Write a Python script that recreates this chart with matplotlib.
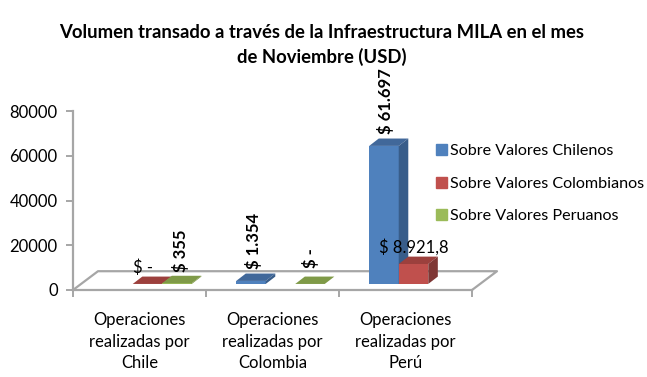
import matplotlib.pyplot as plt
from matplotlib.patches import Polygon, Patch

plt.rcParams['font.family'] = ['Lato', 'DejaVu Sans']

# datos
categorias = ["Operaciones\nrealizadas por\nChile", "Operaciones\nrealizadas por\nColombia", "Operaciones\nrealizadas por\nPerú"]
series = ["Sobre Valores Chilenos", "Sobre Valores Colombianos", "Sobre Valores Peruanos"]
chilenos = [None, 1354, 61697]
colombianos = [0, None, 8921.8]
peruanos = [355, 0, None]
etiquetas_chilenos = [None, "$ 1.354", "$ 61.697"]
etiquetas_colombianos = ["$ -", None, "$ 8.921,8"]
etiquetas_peruanos = ["$ 355", "$ -", None]
yticks = [0, 20000, 40000, 60000, 80000]

colores = ['#4f81bd', '#c0504d', '#9bbb59']
lados = ['#385d8a', '#7f3735', '#76923c']
techos = ['#41689a', '#9c403d', '#7f9a48']
GRIS = '#a6a6a6'

W, H = 647, 377
fig = plt.figure(figsize=(W / 100, H / 100), dpi=100)
ax = fig.add_axes([73 / W, 1 - 290 / H, 399 / W, 179 / H])
ax.set_xlim(-0.5, 2.5)
ax.set_ylim(0, 80000)

# pseudo 3D
base = 2700
ancho = 0.222
dx = 0.072
dy = 3300
centro = 0.06

# piso
fx, fy = 0.188, 8400
ax.plot([-0.5, -0.5 + fx, 2.5 + fx, 2.5], [0, fy, fy, 0], color=GRIS, lw=1.6, clip_on=False, zorder=1)


def barra3d(x, v, i):
    izq = x - ancho / 2
    der = x + ancho / 2
    ax.bar(x, v, ancho, bottom=base, color=colores[i], zorder=3 + x + i * 0.1, clip_on=False)
    tope = base + v
    ax.add_patch(Polygon([(izq, tope), (der, tope), (der + dx, tope + dy), (izq + dx, tope + dy)],
                         color=techos[i], lw=0, zorder=3 + x + i * 0.1, clip_on=False))
    ax.add_patch(Polygon([(der, base), (der, tope), (der + dx, tope + dy), (der + dx, base + dy)],
                         color=lados[i], lw=0, zorder=3 + x + i * 0.1, clip_on=False))


for i, vals in enumerate([chilenos, colombianos, peruanos]):
    for j, v in enumerate(vals):
        if v is not None:
            barra3d(j + centro + (i - 1) * ancho, v, i)

# ajustes a mano de las etiquetas, en pixeles (serie, categoria)
ajustes = {(0, 1): (-2, 2), (0, 2): (-3, 2), (1, 0): (-9, -4), (1, 2): (-4, -3), (2, 0): (-1, 1), (2, 1): (-4, 6)}

# etiquetas de datos
for i, (vals, etqs) in enumerate(zip([chilenos, colombianos, peruanos],
                                     [etiquetas_chilenos, etiquetas_colombianos, etiquetas_peruanos])):
    for j, (v, e) in enumerate(zip(vals, etqs)):
        if v is None:
            continue
        x = j + centro + (i - 1) * ancho + dx / 2
        horizontal = i == 1
        ox, oy = ajustes.get((i, j), (0, 0))
        ax.annotate(e, (x, base + v + dy), xytext=(ox * 0.72, (3 if horizontal else 2) + oy * 0.72),
                    textcoords='offset points', ha='center', va='bottom', rotation=0 if horizontal else 90,
                    fontsize=12, fontweight='normal' if horizontal else 'bold', color='black',
                    zorder=20, annotation_clip=False)

# ejes
for s in ['top', 'right']:
    ax.spines[s].set_visible(False)
for s in ['left', 'bottom']:
    ax.spines[s].set_color(GRIS)
    ax.spines[s].set_linewidth(1.6)
ax.set_yticks(yticks)
ax.set_yticklabels([str(t) for t in yticks], fontsize=12)
ax.tick_params(axis='y', color=GRIS, width=1.4, length=5, pad=6)
ax.set_xticks([-0.5, 0.5, 1.5, 2.5])
ax.set_xticklabels([])
ax.tick_params(axis='x', color=GRIS, width=1.4, length=5)
ax.set_xticks([0, 1, 2], minor=True)
ax.set_xticklabels(categorias, minor=True, fontsize=12, linespacing=1.42)
ax.tick_params(axis='x', which='minor', length=0, pad=16)

# leyenda
handles = [Patch(color=c, label=s) for c, s in zip(colores, series)]
fig.legend(handles=handles, loc='upper left', bbox_to_anchor=(433 / W, 1 - 141 / H), frameon=False,
           fontsize=11.6, handlelength=0.65, handleheight=0.65, handletextpad=0.2, labelspacing=1.15,
           borderaxespad=0, borderpad=0.2)

fig.text(322 / W, 1 - 45 / H, "Volumen transado a través de la Infraestructura MILA en el mes\nde Noviembre (USD)",
         ha='center', va='center', fontsize=13.3, fontweight='bold', linespacing=1.5)

fig.savefig("out.png", dpi=100)
